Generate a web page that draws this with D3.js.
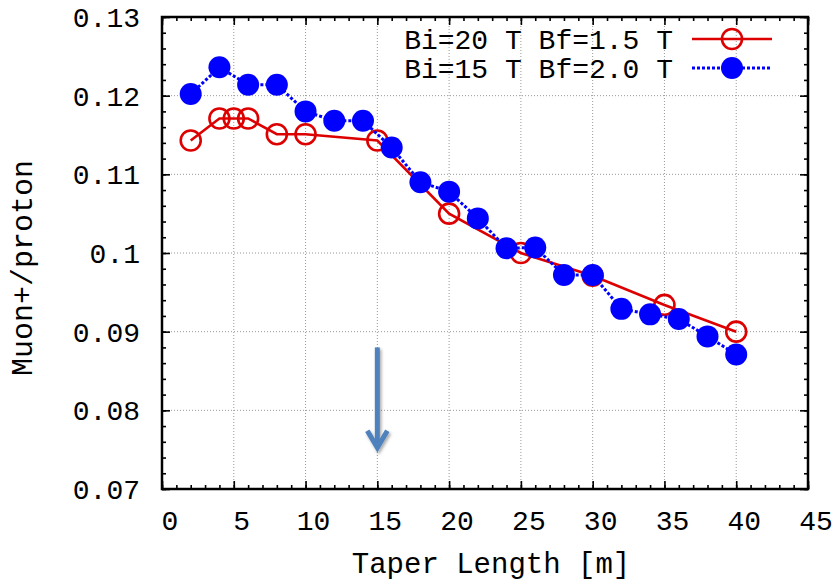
<!DOCTYPE html>
<html>
<head>
<meta charset="utf-8">
<script src="https://cdn.jsdelivr.net/npm/d3@7"></script>
<style>
  body { margin: 0; background: #fff; }
  svg { display: block; }
</style>
</head>
<body>
<svg id="chart" width="834" height="581"></svg>
<script>
// taper length [m] and muon+/proton yields
const redX = [2, 4, 5, 6, 8, 10, 15, 20, 25, 30, 35, 40];
const redY = [0.1143, 0.1171, 0.1171, 0.1171, 0.1151, 0.1151, 0.1143, 0.1050, 0.1000, 0.0971, 0.0934, 0.0900];
const blueX = [2, 4, 6, 8, 10, 12, 14, 16, 18, 20, 22, 24, 26, 28, 30, 32, 34, 36, 38, 40];
const blueY = [0.1202, 0.1236, 0.1214, 0.1214, 0.1180, 0.1168, 0.1168, 0.1134, 0.1090, 0.1078,
               0.1044, 0.1006, 0.1007, 0.0972, 0.0972, 0.0929, 0.0922, 0.0916, 0.0894, 0.0871];
const seriesNames = ["Bi=20 T Bf=1.5 T", "Bi=15 T Bf=2.0 T"];

const xTicks = [0, 5, 10, 15, 20, 25, 30, 35, 40, 45];
const yTicks = [0.07, 0.08, 0.09, 0.1, 0.11, 0.12, 0.13];
const xMinor = d3.range(0, 46, 1);
const yMinor = d3.range(0, 31).map(i => 0.07 + i * 0.002);

// annotation arrow
const arrowX = 15, arrowFrom = 0.088, arrowTo = 0.075;

const svg = d3.select("#chart");
const margin = {top: 17, right: 26, bottom: 92, left: 162};
const W = 834 - margin.left - margin.right;
const H = 581 - margin.top - margin.bottom;
const font = "'Liberation Mono', 'Courier New', monospace";

const x = d3.scaleLinear().domain([0, 45]).range([0, W]);
const y = d3.scaleLinear().domain([0.07, 0.13]).range([H, 0]);

const defs = svg.append("defs");
const shadow = defs.append("filter").attr("id", "shadow")
    .attr("x", "-50%").attr("y", "-20%").attr("width", "200%").attr("height", "140%");
shadow.append("feDropShadow")
    .attr("dx", 1.5).attr("dy", 2).attr("stdDeviation", 1.5)
    .attr("flood-color", "#000").attr("flood-opacity", 0.35);

const g = svg.append("g").attr("transform", `translate(${margin.left},${margin.top})`);

// grid
g.append("g")
  .selectAll("line").data(xTicks.slice(1, -1)).join("line")
    .attr("x1", d => x(d)).attr("x2", d => x(d))
    .attr("y1", 0).attr("y2", H)
    .attr("stroke", "#999").attr("stroke-width", 1).attr("stroke-dasharray", "1,2");
g.append("g")
  .selectAll("line").data(yTicks.slice(1, -1)).join("line")
    .attr("y1", d => y(d)).attr("y2", d => y(d))
    .attr("x1", 0).attr("x2", W)
    .attr("stroke", "#999").attr("stroke-width", 1).attr("stroke-dasharray", "1,2");

// mirrored inward ticks on all four sides
function ticks(axis, scale, vals, size) {
  return g => g.call(axis(scale).tickValues(vals).tickSize(-size).tickFormat(""))
    .call(s => s.select(".domain").remove())
    .call(s => s.selectAll(".tick line").attr("stroke", "#000").attr("stroke-width", 1.6));
}
g.append("g").attr("transform", `translate(0,${H})`).call(ticks(d3.axisBottom, x, xMinor, 4));
g.append("g").attr("transform", `translate(0,${H})`).call(ticks(d3.axisBottom, x, xTicks, 8));
g.append("g").call(ticks(d3.axisTop, x, xMinor, 4));
g.append("g").call(ticks(d3.axisTop, x, xTicks, 8));
g.append("g").call(ticks(d3.axisLeft, y, yMinor, 4));
g.append("g").call(ticks(d3.axisLeft, y, yTicks, 8));
g.append("g").attr("transform", `translate(${W},0)`).call(ticks(d3.axisRight, y, yMinor, 4));
g.append("g").attr("transform", `translate(${W},0)`).call(ticks(d3.axisRight, y, yTicks, 8));

// tick labels
g.append("g").selectAll("text").data(xTicks).join("text")
    .attr("x", d => x(d) + 8).attr("y", H + 41)
    .attr("text-anchor", "middle")
    .attr("font-family", font).attr("font-size", 28)
    .text(d => d);
g.append("g").selectAll("text").data(yTicks).join("text")
    .attr("x", -22).attr("y", d => y(d) + 10)
    .attr("text-anchor", "end")
    .attr("font-family", font).attr("font-size", 28)
    .text(d => d3.format("")(+d.toFixed(2)));

// frame
g.append("rect").attr("width", W).attr("height", H)
    .attr("fill", "none").attr("stroke", "#000").attr("stroke-width", 2.5);

// axis titles
svg.append("text")
    .attr("x", margin.left + W / 2 + 6).attr("y", 573)
    .attr("text-anchor", "middle")
    .attr("font-family", font).attr("font-size", 29)
    .text("Taper Length [m]");
svg.append("text")
    .attr("transform", `translate(32,${margin.top + H / 2 + 15}) rotate(-90)`)
    .attr("text-anchor", "middle")
    .attr("font-family", font).attr("font-size", 30)
    .text("Muon+/proton");

// arrow
const ax = x(arrowX);
const arrow = g.append("g").attr("filter", "url(#shadow)")
    .attr("stroke", "#4f81bd").attr("fill", "none").attr("stroke-width", 5);
arrow.append("line").attr("x1", ax).attr("x2", ax)
    .attr("y1", y(arrowFrom)).attr("y2", y(arrowTo) - 3);
arrow.append("path")
    .attr("d", `M${ax - 10},${y(arrowTo) - 19}L${ax},${y(arrowTo) - 2}L${ax + 10},${y(arrowTo) - 19}`)
    .attr("stroke-linecap", "butt").attr("stroke-linejoin", "miter");

// series
const red = "#dd0000", blue = "#0000ff";
const line = d3.line().x(d => x(d[0])).y(d => y(d[1]));
const redPts = redX.map((v, i) => [v, redY[i]]);
const bluePts = blueX.map((v, i) => [v, blueY[i]]);

g.append("path").datum(redPts).attr("d", line)
    .attr("fill", "none").attr("stroke", red).attr("stroke-width", 2.6);
g.append("g").selectAll("circle").data(redPts).join("circle")
    .attr("cx", d => x(d[0])).attr("cy", d => y(d[1])).attr("r", 10)
    .attr("fill", "none").attr("stroke", red).attr("stroke-width", 2.6);

g.append("path").datum(bluePts).attr("d", line)
    .attr("fill", "none").attr("stroke", blue).attr("stroke-width", 3)
    .attr("stroke-dasharray", "3,2");
g.append("g").selectAll("circle").data(bluePts).join("circle")
    .attr("cx", d => x(d[0])).attr("cy", d => y(d[1])).attr("r", 11)
    .attr("fill", blue);

// legend
const legend = svg.append("g");
const rows = [
  {name: seriesNames[0], color: red, dash: null, filled: false, r: 10},
  {name: seriesNames[1], color: blue, dash: "3,2", filled: true, r: 11}
];
rows.forEach((d, i) => {
  const ly = 39 + i * 29;
  legend.append("text")
      .attr("x", 673).attr("y", ly + 10)
      .attr("text-anchor", "end")
      .attr("font-family", font).attr("font-size", 28)
      .text(d.name);
  legend.append("line")
      .attr("x1", 692).attr("x2", 772).attr("y1", ly).attr("y2", ly)
      .attr("stroke", d.color).attr("stroke-width", d.filled ? 3 : 2.6)
      .attr("stroke-dasharray", d.dash);
  legend.append("circle")
      .attr("cx", 732).attr("cy", ly).attr("r", d.r)
      .attr("fill", d.filled ? d.color : "none")
      .attr("stroke", d.filled ? "none" : d.color).attr("stroke-width", 2.6);
});
</script>
</body>
</html>
